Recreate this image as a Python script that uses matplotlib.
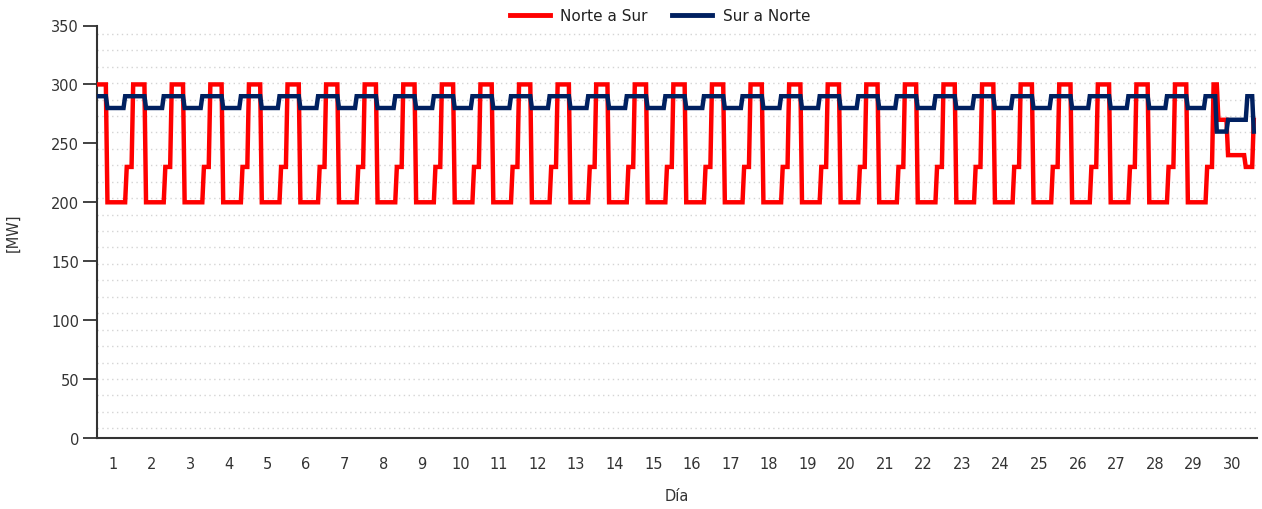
import numpy as np
import matplotlib
matplotlib.use("Agg")
import matplotlib.pyplot as plt
from matplotlib.ticker import FixedLocator

# ---- data (hourly MW) ----
days = list(range(1, 31))
day_labels = [str(d) for d in days]

# typical daily profile (hours 0..23), days 1-29
norte_sur_typical = [300, 300, 300, 300, 300, 300,
                     200, 200, 200, 200, 200, 200,
                     200, 200, 200, 200, 200, 200,
                     230, 230, 230, 230, 300, 300]
sur_norte_typical = [290, 290, 290, 290, 290, 290,
                     280, 280, 280, 280, 280, 280,
                     280, 280, 280, 280, 280, 290,
                     290, 290, 290, 290, 290, 290]
# last day (day 30)
norte_sur_day30 = [300, 270, 270, 270, 270, 270,
                   270, 240, 240, 240, 240, 240,
                   240, 240, 240, 240, 240, 240,
                   230, 230, 230, 230, 230, 270]
sur_norte_day30 = [260, 260, 260, 260, 260, 260,
                   260, 270, 270, 270, 270, 270,
                   270, 270, 270, 270, 270, 270,
                   270, 290, 290, 290, 290, 260]

norte_sur = np.array(norte_sur_typical * 29 + norte_sur_day30, dtype=float)
sur_norte = np.array(sur_norte_typical * 29 + sur_norte_day30, dtype=float)
hours = np.arange(len(norte_sur)) + 0.5

y_ticks = [0, 50, 100, 150, 200, 250, 300, 350]

# ---- figure ----
fig = plt.figure(figsize=(12.62, 5.10), dpi=100)
ax = fig.add_axes([97 / 1262, 71 / 510, 1160 / 1262, 412.5 / 510])

ax.plot(hours, norte_sur, color="#FF0000", lw=3.2, label="Norte a Sur",
        solid_joinstyle="miter", zorder=3)
ax.plot(hours, sur_norte, color="#002060", lw=3.2, label="Sur a Norte",
        solid_joinstyle="miter", zorder=4)

ax.set_xlim(0, 721.5)
ax.set_ylim(0, 350)

ax.set_yticks(y_ticks)
ax.set_yticklabels([str(v) for v in y_ticks])
grid_vals = 8.2 + 13.95 * np.arange(25)
ax.yaxis.set_minor_locator(FixedLocator(grid_vals))
ax.grid(which="minor", axis="y", color="#D4D4D4", linestyle=(0, (1, 2.5)), lw=1.0)
ax.grid(which="major", visible=False)
ax.tick_params(axis="y", which="minor", length=0)
ax.tick_params(axis="y", which="major", length=10, width=1.3, color="#333333",
               labelsize=10.5, labelcolor="#333333", pad=3)

ax.set_xticks([(d - 1) * 24 + 10 for d in days])
ax.set_xticklabels(day_labels)
ax.tick_params(axis="x", length=0, labelsize=10.5, labelcolor="#333333", pad=13)

for s in ["top", "right"]:
    ax.spines[s].set_visible(False)
for s in ["left", "bottom"]:
    ax.spines[s].set_color("#333333")
    ax.spines[s].set_linewidth(1.5)

ax.set_ylabel("[MW]", fontsize=10.5, color="#333333")
ax.yaxis.set_label_coords(-0.066, 0.5)
ax.set_xlabel("Día", fontsize=10.5, color="#333333", labelpad=12)

leg = fig.legend(loc="center", bbox_to_anchor=(0.523, 0.967), ncol=2,
                 frameon=True, fontsize=11, handlelength=2.6, columnspacing=1.6,
                 handletextpad=0.7, borderpad=0.3)
leg.get_frame().set_facecolor("white")
leg.get_frame().set_edgecolor("white")
for t in leg.get_texts():
    t.set_color("#222222")
for l in leg.get_lines():
    l.set_linewidth(3.5)

fig.savefig("out.png", dpi=100)
